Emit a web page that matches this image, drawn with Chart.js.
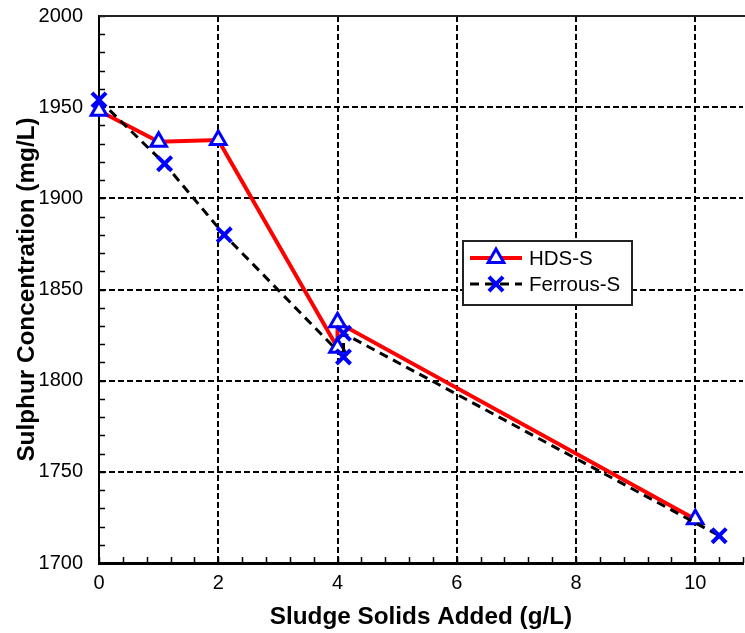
<!DOCTYPE html>
<html>
<head>
<meta charset="utf-8">
<script src="https://cdn.jsdelivr.net/npm/chart.js@4.4.1/dist/chart.umd.min.js"></script>
<style>
  html, body { margin: 0; padding: 0; background: #fff; }
  #wrap { width: 745px; height: 633px; }
</style>
</head>
<body>
<div id="wrap"><canvas id="sulphurChart" width="745" height="633"></canvas></div>
<script>
// values
const hdsX = [0, 1, 2, 4, 4, 10];
const hdsY = [1948, 1931, 1932, 1818, 1832, 1724];
const ferrousX = [0, 1.1, 2.1, 4.1, 4.1, 10.4];
const ferrousY = [1954, 1919, 1880, 1813, 1826, 1715];
const seriesNames = ["HDS-S", "Ferrous-S"];
const xTitle = "Sludge Solids Added (g/L)";
const yTitle = "Sulphur Concentration (mg/L)";
const xMajor = [0, 2, 4, 6, 8, 10];
const yMajor = [1700, 1750, 1800, 1850, 1900, 1950, 2000];

const FONT = "'Liberation Sans', Arial, Helvetica, sans-serif";
const isMajor = (v, list) => list.some(m => Math.abs(m - v) < 1e-6);

// minor ticks point into the plot, like the original
const innerTicks = {
    id: "innerTicks",
    beforeDatasetsDraw(chart) {
        const { ctx, chartArea } = chart;
        const xs = chart.scales.x, ys = chart.scales.y;
        ctx.save();
        ctx.strokeStyle = "#000";
        ctx.lineWidth = 1.5;
        ctx.beginPath();
        ys.ticks.forEach(t => {
            const py = Math.round(ys.getPixelForValue(t.value)) + 0.5;
            ctx.moveTo(chartArea.left, py);
            ctx.lineTo(chartArea.left + 6, py);
        });
        xs.ticks.forEach(t => {
            const px = Math.round(xs.getPixelForValue(t.value)) + 0.5;
            ctx.moveTo(px, chartArea.bottom);
            ctx.lineTo(px, chartArea.bottom - 6);
        });
        ctx.stroke();
        // top frame line
        ctx.lineWidth = 2;
        ctx.strokeStyle = "#222";
        ctx.beginPath();
        ctx.moveTo(chartArea.left, chartArea.top);
        ctx.lineTo(chartArea.right + 2, chartArea.top);
        ctx.stroke();
        ctx.restore();
    }
};

// boxed legend sitting inside the plot
const boxLegend = {
    id: "boxLegend",
    afterDraw(chart) {
        const ctx = chart.ctx;
        ctx.save();
        ctx.fillStyle = "#fff";
        ctx.fillRect(463, 241, 169, 64);
        ctx.lineWidth = 2;
        ctx.strokeStyle = "#222";
        ctx.strokeRect(463, 241, 169, 64);
        chart.data.datasets.forEach((ds, i) => {
            const y = 258 + i * 26;
            ctx.beginPath();
            ctx.setLineDash(ds.borderDash || []);
            ctx.lineWidth = ds.borderWidth;
            ctx.strokeStyle = ds.borderColor;
            ctx.moveTo(470, y);
            ctx.lineTo(522, y);
            ctx.stroke();
            ctx.setLineDash([]);
            ctx.strokeStyle = ds.pointBorderColor;
            ctx.fillStyle = ds.pointBackgroundColor;
            ctx.lineWidth = ds.pointBorderWidth;
            Chart.helpers.drawPoint(ctx, {
                pointStyle: ds.pointStyle,
                radius: ds.pointRadius,
                borderWidth: ds.pointBorderWidth,
                rotation: 0
            }, 496, y);
            ctx.fillStyle = "#000";
            ctx.font = "20.5px " + FONT;
            ctx.textBaseline = "middle";
            ctx.textAlign = "left";
            ctx.fillText(ds.label, 529, y + 1);
        });
        ctx.restore();
    }
};

const ctx = document.getElementById("sulphurChart").getContext("2d");

new Chart(ctx, {
    type: "line",
    data: {
        datasets: [
            {
                label: seriesNames[0],
                data: hdsX.map((x, i) => ({ x: x, y: hdsY[i] })),
                borderColor: "#ff0000",
                borderWidth: 4,
                tension: 0,
                pointStyle: "triangle",
                pointRadius: 9,
                pointBorderWidth: 3,
                pointBorderColor: "#0000ff",
                pointBackgroundColor: "#ffffff",
                clip: false,
                order: 1
            },
            {
                label: seriesNames[1],
                data: ferrousX.map((x, i) => ({ x: x, y: ferrousY[i] })),
                borderColor: "#000000",
                borderWidth: 3,
                borderDash: [9, 6],
                tension: 0,
                pointStyle: "crossRot",
                pointRadius: 10,
                pointBorderWidth: 4,
                pointBorderColor: "#0000ff",
                pointBackgroundColor: "#0000ff",
                clip: false,
                order: 0
            }
        ]
    },
    options: {
        responsive: false,
        animation: false,
        events: [],
        layout: { autoPadding: false, padding: { top: 16, right: 2, left: 0, bottom: 0 } },
        plugins: {
            legend: { display: false },
            tooltip: { enabled: false }
        },
        scales: {
            x: {
                type: "linear",
                min: 0,
                max: 10.8,
                afterFit: s => {
                    s.height = 70;
                    s.paddingLeft = 0;
                    s.paddingRight = 0;
                },
                ticks: {
                    stepSize: 0.4,
                    autoSkip: false,
                    maxRotation: 0,
                    padding: 8,
                    color: "#000",
                    font: { family: FONT, size: 20 },
                    callback: v => isMajor(v, xMajor) ? String(Math.round(v)) : ""
                },
                grid: {
                    drawTicks: false,
                    lineWidth: 2,
                    color: c => (c.tick && c.tick.value > 0.01 && isMajor(c.tick.value, xMajor)) ? "#000" : "rgba(0,0,0,0)"
                },
                border: { display: true, color: "#000", width: 3, dash: [6, 3] },
                title: {
                    display: true,
                    text: xTitle,
                    color: "#000",
                    font: { family: FONT, size: 24.3, weight: "bold" },
                    padding: { top: 0, bottom: 1 }
                }
            },
            y: {
                min: 1700,
                max: 2000,
                afterFit: s => {
                    s.width = 99;
                    s.paddingTop = 0;
                    s.paddingBottom = 0;
                },
                ticks: {
                    stepSize: 10,
                    autoSkip: false,
                    padding: 16,
                    color: "#000",
                    font: { family: FONT, size: 20 },
                    callback: v => isMajor(v, yMajor) ? String(Math.round(v)) : ""
                },
                grid: {
                    drawTicks: false,
                    lineWidth: 2,
                    color: c => (c.tick && c.tick.value > 1700 && c.tick.value < 2000 && isMajor(c.tick.value, yMajor)) ? "#000" : "rgba(0,0,0,0)"
                },
                border: { display: true, color: "#000", width: 2, dash: [6, 3] },
                title: {
                    display: true,
                    text: yTitle,
                    color: "#000",
                    font: { family: FONT, size: 24.3, weight: "bold" },
                    padding: { top: 13, bottom: 0 }
                }
            }
        }
    },
    plugins: [innerTicks, boxLegend]
});
</script>
</body>
</html>
